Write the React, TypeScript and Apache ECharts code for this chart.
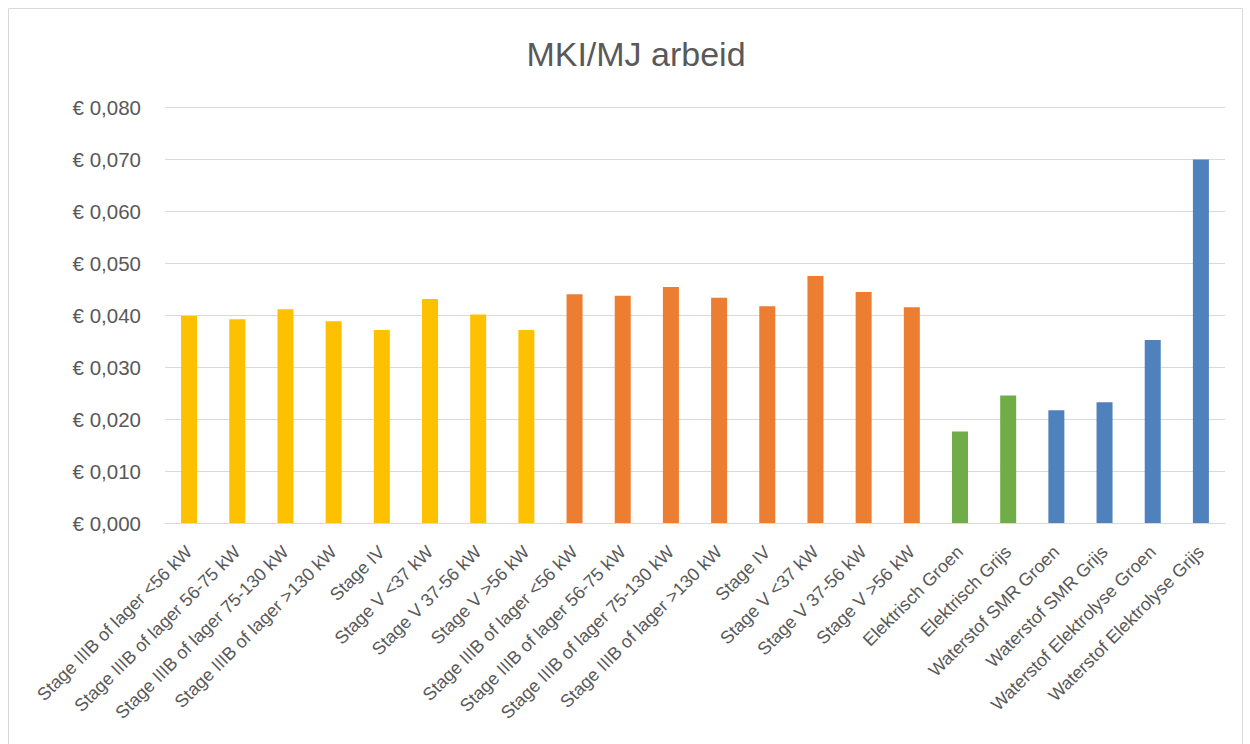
import React, { useEffect, useRef } from "react";
import * as echarts from "echarts";

const categories = [
  "Stage IIIB of lager <56 kW",
  "Stage IIIB of lager 56-75 kW",
  "Stage IIIB of lager 75-130 kW",
  "Stage IIIB of lager >130 kW",
  "Stage IV",
  "Stage V <37 kW",
  "Stage V 37-56 kW",
  "Stage V >56 kW",
  "Stage IIIB of lager <56 kW",
  "Stage IIIB of lager 56-75 kW",
  "Stage IIIB of lager 75-130 kW",
  "Stage IIIB of lager >130 kW",
  "Stage IV",
  "Stage V <37 kW",
  "Stage V 37-56 kW",
  "Stage V >56 kW",
  "Elektrisch Groen",
  "Elektrisch Grijs",
  "Waterstof SMR Groen",
  "Waterstof SMR Grijs",
  "Waterstof Elektrolyse Groen",
  "Waterstof Elektrolyse Grijs",
];

const values = [
  0.0398, 0.0392, 0.0411, 0.0388, 0.0371, 0.0431, 0.0401, 0.0371,
  0.044, 0.0437, 0.0454, 0.0433, 0.0417, 0.0475, 0.0444, 0.0415,
  0.0176, 0.0245, 0.0217, 0.0232, 0.0352, 0.0699,
];

const groups = [
  "yellow", "yellow", "yellow", "yellow", "yellow", "yellow", "yellow", "yellow",
  "orange", "orange", "orange", "orange", "orange", "orange", "orange", "orange",
  "green", "green", "blue", "blue", "blue", "blue",
];

const groupColors: Record<string, string> = {
  yellow: "#FFC000",
  orange: "#ED7D31",
  green: "#70AD47",
  blue: "#4F81BD",
};

const title = "MKI/MJ arbeid";

export default function App() {
  const ref = useRef<HTMLDivElement>(null);
  useEffect(() => {
    if (!ref.current) return;
    const chart = echarts.init(ref.current, null, { renderer: "svg" });
    chart.setOption({
      animation: false,
      backgroundColor: "#ffffff",
      title: {
        text: title,
        left: 631,
        top: 32,
        textAlign: "center",
        textStyle: {
          fontFamily: "Liberation Sans",
          fontSize: 34,
          fontWeight: "normal",
          color: "#595959",
        },
      },
      graphic: [
        {
          type: "rect",
          shape: { x: 8.5, y: 8.5, width: 1234, height: 745 },
          style: { fill: "none", stroke: "#d9d9d9", lineWidth: 1 },
          silent: true,
        },
      ],
      grid: { left: 165, right: 25, top: 107, bottom: 221 },
      xAxis: {
        type: "category",
        data: categories,
        axisLine: { lineStyle: { color: "#d9d9d9", width: 1 } },
        axisTick: { show: false },
        axisLabel: {
          interval: 0,
          rotate: 45,
          margin: 26,
          fontFamily: "Liberation Sans",
          fontSize: 18,
          color: "#595959",
        },
      },
      yAxis: {
        type: "value",
        min: 0,
        max: 0.08,
        interval: 0.01,
        axisLine: { show: false },
        axisTick: { show: false },
        splitLine: { lineStyle: { color: "#d9d9d9", width: 1 } },
        axisLabel: {
          margin: 24,
          fontFamily: "Liberation Sans",
          fontSize: 20.5,
          color: "#595959",
          formatter: (v: number) => "€ " + v.toFixed(3).replace(".", ","),
        },
      },
      series: [
        {
          type: "bar",
          barWidth: 16,
          data: values.map((v, i) => ({
            value: v,
            itemStyle: { color: groupColors[groups[i]] },
          })),
        },
      ],
    });
    return () => chart.dispose();
  }, []);
  return (
    <div
      ref={ref}
      style={{ position: "absolute", left: 0, top: 0, width: 1250, height: 744 }}
    />
  );
}
